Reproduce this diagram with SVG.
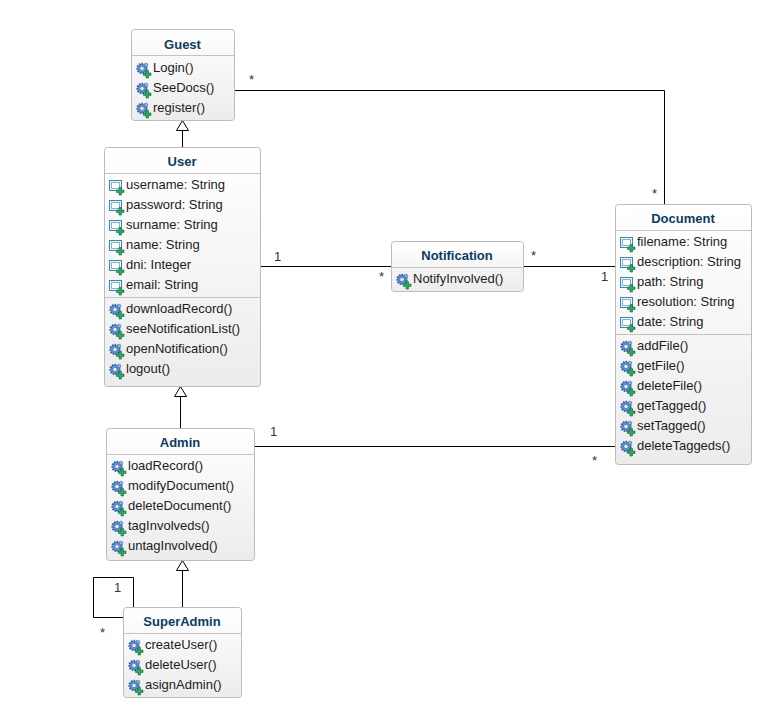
<svg xmlns="http://www.w3.org/2000/svg" xmlns:xlink="http://www.w3.org/1999/xlink" width="781" height="727" viewBox="0 0 781 727">
<style>
text{font-family:"Liberation Sans",Arial,sans-serif;font-size:13px;fill:#1c1c1c}
.t{font-weight:bold;fill:#0b3c63;text-anchor:middle}
.b{fill:url(#g);stroke:#bcbcbc;stroke-width:1}
.s{stroke:#c4c4c4;stroke-width:1;fill:none}
.c{fill:none;stroke:#000;stroke-width:1}
.h{fill:#fff;stroke:#000;stroke-width:1}
.m{fill:#333}
</style>
<defs>
<linearGradient id="g" x1="0" y1="0" x2="0" y2="1"><stop offset="0" stop-color="#fff"/><stop offset="1" stop-color="#ececec"/></linearGradient>
<g id="plus"><path d="M10 8.500h2.500v2.500h2.500v2.500h-2.500v2.500h-2.500v-2.500h-2.500v-2.500h2.500z" fill="#2aa863" stroke="#0f6b38" stroke-width=".6"/></g>
<g id="op"><circle cx="6" cy="6.500" r="4.800" fill="#5b8fd0" stroke="#2d5c9c" stroke-width="1.800" stroke-dasharray="1.500 1.200"/><circle cx="6" cy="6.500" r="2.200" fill="#e3edf9" stroke="#3a6cae" stroke-width=".7"/><circle cx="10" cy="3" r="1.800" fill="#8fb5e2" stroke="#3a6cae" stroke-width=".6"/><use xlink:href="#plus" href="#plus"/></g>
<g id="at"><rect x="0.500" y="1.500" width="12" height="10" fill="#f0f6fc" stroke="#3a85c6"/><rect x="2.500" y="3.500" width="8" height="6" fill="#fff" stroke="#7fb2e0"/><use xlink:href="#plus" href="#plus"/></g>
</defs>

<g id="connectors">
<path class="c" d="M235 90.500H664.500V204"/>
<path class="c" d="M261 266.500H391"/>
<path class="c" d="M524 266.500H615"/>
<path class="c" d="M255 446.500H615"/>
<path class="c" d="M182.500 147V131"/>
<polygon class="h" points="182.500,120.500 176.500,130.500 188.500,130.500"/>
<path class="c" d="M180.500 428V397"/>
<polygon class="h" points="180.500,386.500 174.500,396.500 186.500,396.500"/>
<path class="c" d="M182.500 607V571"/>
<polygon class="h" points="182.500,560.500 176.500,570.500 188.500,570.500"/>
<path class="c" d="M133.500 607V577.500H93.500V617.500H123"/>
<text class="m" x="249" y="84">*</text>
<text class="m" x="652" y="198">*</text>
<text class="m" x="274" y="261">1</text>
<text class="m" x="379" y="281">*</text>
<text class="m" x="531" y="260">*</text>
<text class="m" x="601" y="281">1</text>
<text class="m" x="270" y="436">1</text>
<text class="m" x="592" y="465">*</text>
<text class="m" x="114" y="592">1</text>
<text class="m" x="100" y="637">*</text>
</g>

<g id="guest">
<rect class="b" x="131.500" y="29.500" width="103" height="91" rx="3"/>
<path class="s" d="M132 55.500H234"/>
<text class="t" x="182.500" y="49">Guest</text>
<use href="#op" x="136" y="62"/><text x="153" y="72">Login()</text>
<use href="#op" x="136" y="82"/><text x="153" y="92">SeeDocs()</text>
<use href="#op" x="136" y="102"/><text x="153" y="112">register()</text>
</g>

<g id="user">
<rect class="b" x="104.500" y="147.500" width="156" height="239" rx="3"/>
<path class="s" d="M105 173.500H260M105 297.500H260"/>
<text class="t" x="182" y="166">User</text>
<use href="#at" x="109" y="179"/><text x="126" y="189">username: String</text>
<use href="#at" x="109" y="199"/><text x="126" y="209">password: String</text>
<use href="#at" x="109" y="219"/><text x="126" y="229">surname: String</text>
<use href="#at" x="109" y="239"/><text x="126" y="249">name: String</text>
<use href="#at" x="109" y="259"/><text x="126" y="269">dni: Integer</text>
<use href="#at" x="109" y="279"/><text x="126" y="289">email: String</text>
<use href="#op" x="109" y="303"/><text x="126" y="313">downloadRecord()</text>
<use href="#op" x="109" y="323"/><text x="126" y="333">seeNotificationList()</text>
<use href="#op" x="109" y="343"/><text x="126" y="353">openNotification()</text>
<use href="#op" x="109" y="363"/><text x="126" y="373">logout()</text>
</g>

<g id="admin">
<rect class="b" x="106.500" y="428.500" width="148" height="132" rx="3"/>
<path class="s" d="M107 454.500H254"/>
<text class="t" x="180" y="447">Admin</text>
<use href="#op" x="111" y="460"/><text x="128" y="470">loadRecord()</text>
<use href="#op" x="111" y="480"/><text x="128" y="490">modifyDocument()</text>
<use href="#op" x="111" y="500"/><text x="128" y="510">deleteDocument()</text>
<use href="#op" x="111" y="520"/><text x="128" y="530">tagInvolveds()</text>
<use href="#op" x="111" y="540"/><text x="128" y="550">untagInvolved()</text>
</g>

<g id="superadmin">
<rect class="b" x="123.500" y="607.500" width="118" height="90" rx="3"/>
<path class="s" d="M124 633.500H241"/>
<text class="t" x="182" y="626">SuperAdmin</text>
<use href="#op" x="128" y="639"/><text x="145" y="649">createUser()</text>
<use href="#op" x="128" y="659"/><text x="145" y="669">deleteUser()</text>
<use href="#op" x="128" y="679"/><text x="145" y="689">asignAdmin()</text>
</g>

<g id="notification">
<rect class="b" x="391.500" y="241.500" width="132" height="50" rx="3"/>
<path class="s" d="M392 267.500H523"/>
<text class="t" x="457" y="260">Notification</text>
<use href="#op" x="396" y="273"/><text x="413" y="283">NotifyInvolved()</text>
</g>

<g id="document">
<rect class="b" x="615.500" y="204.500" width="136" height="260" rx="3"/>
<path class="s" d="M616 230.500H751M616 334.500H751"/>
<text class="t" x="683" y="223">Document</text>
<use href="#at" x="620" y="236"/><text x="637" y="246">filename: String</text>
<use href="#at" x="620" y="256"/><text x="637" y="266">description: String</text>
<use href="#at" x="620" y="276"/><text x="637" y="286">path: String</text>
<use href="#at" x="620" y="296"/><text x="637" y="306">resolution: String</text>
<use href="#at" x="620" y="316"/><text x="637" y="326">date: String</text>
<use href="#op" x="620" y="340"/><text x="637" y="350">addFile()</text>
<use href="#op" x="620" y="360"/><text x="637" y="370">getFile()</text>
<use href="#op" x="620" y="380"/><text x="637" y="390">deleteFile()</text>
<use href="#op" x="620" y="400"/><text x="637" y="410">getTagged()</text>
<use href="#op" x="620" y="420"/><text x="637" y="430">setTagged()</text>
<use href="#op" x="620" y="440"/><text x="637" y="450">deleteTaggeds()</text>
</g>
</svg>
